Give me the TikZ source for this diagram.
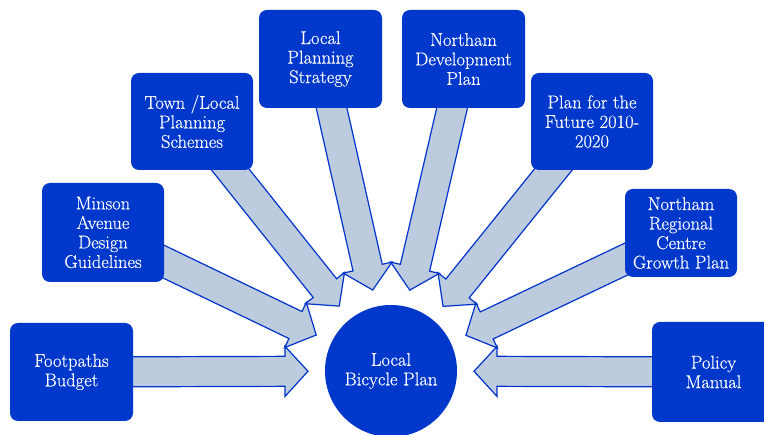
\documentclass[tikz,border=0pt]{standalone}
\usepackage{fontspec}
\newfontfamily\lblfont{Latin Modern Roman}[FakeBold=0.35]
\usetikzlibrary{calc,backgrounds}
\definecolor{boxblue}{RGB}{0,56,204}
\definecolor{arrfill}{RGB}{188,204,222}
\definecolor{arrline}{RGB}{0,51,204}
\tikzset{
 srcbox/.style={rectangle, fill=boxblue, rounded corners=8pt, text=white, align=center,
   font=\lblfont\fontsize{18.5}{19.5}\selectfont, inner sep=0pt},
 hub/.style={circle, fill=boxblue, text=white, align=center,
   font=\lblfont\fontsize{18.5}{19.5}\selectfont, minimum size=132pt, inner sep=0pt},
 blockarrow/.style={fill=arrfill, draw=arrline, line width=1.2pt, line join=miter}
}
\newcommand\blockarrowto[2]{%
  \coordinate (T) at ($(#2.center)!83pt!(#1.center)$);
  \coordinate (H) at ($(T)!23pt!(#1.center)$);
  \draw[blockarrow] ($(#1.center)!15pt!90:(T)$) -- ($(H)!15pt!90:(T)$) -- ($(H)!25pt!90:(T)$) -- (T)
    -- ($(H)!25pt!-90:(T)$) -- ($(H)!15pt!-90:(T)$) -- ($(#1.center)!15pt!-90:(T)$) -- cycle;
}
\begin{document}
\begin{tikzpicture}[x=1pt,y=1pt]
\useasboundingbox (0,0) rectangle (764,435);
\clip (0,0) rectangle (764,435);
\node[hub] (lbp) at (391,64) {Local\\Bicycle Plan};
\node[srcbox, minimum width=123pt, minimum height=98pt] (fb) at (71.5,63) {Footpaths\\Budget};
\node[srcbox, minimum width=122pt, minimum height=99pt] (mag) at (103,202.5) {Minson\\Avenue\\Design\\Guidelines};
\node[srcbox, minimum width=122pt, minimum height=97pt] (tlp) at (192,313.5) {Town /Local\\Planning\\Schemes};
\node[srcbox, minimum width=123pt, minimum height=98pt] (lps) at (320.5,376) {Local\\Planning\\Strategy};
\node[srcbox, minimum width=123pt, minimum height=98pt] (ndp) at (463.5,376) {Northam\\Development\\Plan};
\node[srcbox, minimum width=122pt, minimum height=97pt] (pff) at (592,313.5) {Plan for the\\Future 2010-\\2020};
\node[srcbox, minimum width=112pt, minimum height=88pt] (nrc) at (681,202) {Northam\\Regional\\Centre\\Growth Plan};
\node[srcbox, minimum width=123pt, minimum height=100pt] (pm) at (713.5,63) {Policy\\Manual};
\begin{scope}[on background layer]
\fill[white] (0,0) rectangle (764,435);
\blockarrowto{fb}{lbp}
\blockarrowto{mag}{lbp}
\blockarrowto{tlp}{lbp}
\blockarrowto{lps}{lbp}
\blockarrowto{ndp}{lbp}
\blockarrowto{pff}{lbp}
\blockarrowto{nrc}{lbp}
\blockarrowto{pm}{lbp}
\end{scope}
\end{tikzpicture}
\end{document}
